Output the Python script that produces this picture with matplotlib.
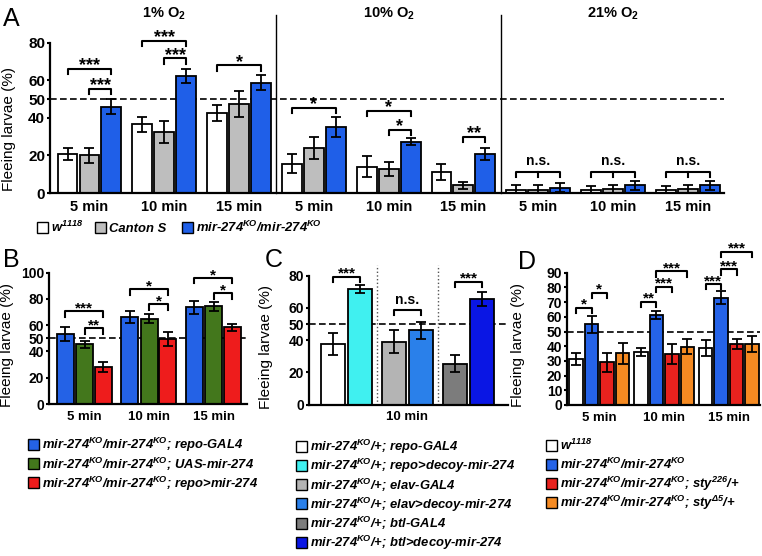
import numpy as np
import matplotlib
matplotlib.use('Agg')
import matplotlib.pyplot as plt
from matplotlib.patches import Rectangle

plt.rcParams['font.family'] = ['Liberation Sans', 'DejaVu Sans']
plt.rcParams['mathtext.fontset'] = 'custom'
plt.rcParams['mathtext.rm'] = 'Liberation Sans:italic:bold'
plt.rcParams['mathtext.it'] = 'Liberation Sans:italic:bold'
plt.rcParams['mathtext.bf'] = 'Liberation Sans:bold'

# ---- panel A: 3 O2 levels x 3 times, 3 genotypes
times = ['5 min', '10 min', '15 min']
o2_levels = ['1% O$_{\\mathbf{2}}$', '10% O$_{\\mathbf{2}}$', '21% O$_{\\mathbf{2}}$']
a_labels = ['w$^{1118}$', 'Canton S', 'mir-274$^{KO}$/mir-274$^{KO}$']
a_colors = ['white', '#bebebe', '#1f5fe8']
a_w1118 = [21, 36.5, 42.5, 15.5, 14, 11.2, 1.8, 1.5, 1.5]
a_w1118_err = [3.2, 4.2, 4.4, 5, 5.5, 4.5, 2.3, 2, 2.3]
a_canton = [20, 32.4, 47.4, 24, 12.8, 4, 1.8, 2, 2]
a_canton_err = [4, 5.7, 6.7, 5.7, 3.6, 2, 2.3, 2.3, 2.3]
a_ko = [46, 62.4, 58.8, 35, 27.4, 21, 2.8, 4.1, 4]
a_ko_err = [4, 3.6, 4, 5.2, 2, 3.2, 2.5, 2.5, 2.5]
# (group, bar i, bar j, height, label)
a_sig = [(0, 0, 2, 66, '***'), (0, 1, 2, 55.6, '***'), (1, 0, 2, 81, '***'),
         (1, 1, 2, 71.6, '***'), (2, 0, 2, 68, '*'), (3, 0, 2, 45.3, '*'),
         (4, 0, 2, 43.8, '*'), (4, 1, 2, 33.7, '*'), (5, 1, 2, 30, '**')]
a_ns = [(6, 11.4), (7, 11.4), (8, 11.4)]

# ---- panel B: rescue in glia
b_labels = ['mir-274$^{KO}$/mir-274$^{KO}$; repo-GAL4',
            'mir-274$^{KO}$/mir-274$^{KO}$; UAS-mir-274',
            'mir-274$^{KO}$/mir-274$^{KO}$; repo>mir-274']
b_colors = ['#2462e6', '#43771c', '#ee1c1c']
b_repo = [53.4, 66.4, 73.5]
b_repo_err = [5.5, 4.6, 5.3]
b_uas = [45.5, 65, 74.3]
b_uas_err = [2.7, 3.4, 3.6]
b_rescue = [28.2, 49.4, 58.5]
b_rescue_err = [3.8, 5.1, 2.8]
b_sig = [(0, 0, 2, 70.5, '***'), (0, 1, 2, 57.8, '**'), (1, 0, 2, 87.5, '*'),
         (1, 1, 2, 76, '*'), (2, 0, 2, 96, '*'), (2, 1, 2, 84.5, '*')]

# ---- panel C: decoy in three tissues, 10 min
c_labels = ['mir-274$^{KO}$/+; repo-GAL4', 'mir-274$^{KO}$/+; repo>decoy-mir-274',
            'mir-274$^{KO}$/+; elav-GAL4', 'mir-274$^{KO}$/+; elav>decoy-mir-274',
            'mir-274$^{KO}$/+; btl-GAL4', 'mir-274$^{KO}$/+; btl>decoy-mir-274']
c_colors = ['white', '#40f0f0', '#b4b4b4', '#2a80ea', '#7c7c7c', '#0a16e4']
c_values = [37.6, 71.7, 39, 46, 25.3, 65.7]
c_err = [6.6, 2.3, 7.2, 5.3, 5.4, 4.3]
c_sig = [(0, 79.4, '***'), (1, 58.7, 'n.s.'), (2, 76.3, '***')]

# ---- panel D: sty heterozygotes
d_labels = ['w$^{1118}$', 'mir-274$^{KO}$/mir-274$^{KO}$',
            'mir-274$^{KO}$/mir-274$^{KO}$; sty$^{226}$/+',
            'mir-274$^{KO}$/mir-274$^{KO}$; sty$^{\u03945}$/+']
d_colors = ['white', '#2563e8', '#e8221e', '#f58a22']
d_w1118 = [31.1, 36.3, 38.6]
d_w1118_err = [4.1, 2.8, 5.3]
d_ko = [54.9, 61.2, 73]
d_ko_err = [5.7, 2.8, 4.3]
d_sty226 = [29, 34.5, 41.7]
d_sty226_err = [6.7, 6.8, 3.4]
d_styd5 = [35.2, 39.7, 41.3]
d_styd5_err = [7.1, 5.1, 5.5]
d_sig = [(0, 0, 1, 66.2, '*'), (0, 1, 2, 76.4, '*'), (1, 0, 1, 70.3, '**'),
         (1, 1, 2, 80.5, '***'), (1, 1, 3, 91, '***'), (2, 0, 1, 82.3, '***'),
         (2, 1, 2, 92.3, '***'), (2, 1, 3, 104.3, '***')]

W, H = 762, 556
fig = plt.figure(figsize=(W / 100, H / 100), dpi=100)


def px_axes(l, t, r, b):
    return fig.add_axes([l / W, 1 - b / H, (r - l) / W, (b - t) / H])


def style(ax, ticks, tsize, ysize=11, ylab_x=-0.05, ylab_y=0.45):
    for s in ['top', 'right']:
        ax.spines[s].set_visible(False)
    for s in ['left', 'bottom']:
        ax.spines[s].set_linewidth(1.6)
    ax.set_yticks(ticks)
    ax.tick_params(axis='y', length=2.5, width=1.5, pad=1, labelsize=tsize)
    ax.tick_params(axis='x', length=0, pad=5, labelsize=tsize - 0.5)
    for lab in ax.get_xticklabels() + ax.get_yticklabels():
        lab.set_fontweight('bold')
    ax.set_ylabel('Fleeing larvae (%)', fontsize=ysize)
    ax.yaxis.set_label_coords(ylab_x, ylab_y)
    ax.axhline(50, color='black', lw=1.2, dashes=(4, 2), zorder=0.5)


def bars(ax, x, vals, errs, color, width):
    ax.bar(x, vals, width, color=color, edgecolor='black', linewidth=1.3)
    ax.errorbar(x, vals, yerr=errs, fmt='none', ecolor='black', elinewidth=1.3,
                capsize=3.6, capthick=1.3)


def bracket(ax, x1, x2, y, label, drop, size=11, mids=()):
    ax.plot([x1, x1, x2, x2], [y - drop, y, y, y - drop], color='black', lw=1.5,
            clip_on=False)
    for xm in mids:
        ax.plot([xm, xm], [y, y - drop], color='black', lw=1.5, clip_on=False)
    xc = (x1 + x2) / 2
    if label == 'n.s.':
        ax.annotate(label, (xc, y), xytext=(0, 2.5), textcoords='offset points',
                    ha='center', va='bottom', fontsize=10, fontweight='bold',
                    annotation_clip=False)
    else:
        ax.annotate(label, (xc, y), xytext=(0, -size * 0.08), textcoords='offset points',
                    ha='center', va='baseline', fontsize=size, fontweight='bold',
                    annotation_clip=False)


def legend_rows(x, rows, labels, colors):
    for y, lab, col in zip(rows, labels, colors):
        fig.patches.append(Rectangle((x / W, 1 - (y + 5.5) / H), 11 / W, 11 / H,
                                     transform=fig.transFigure, facecolor=col,
                                     edgecolor='black', lw=1))
        fig.text((x + 14) / W, 1 - (y + 5) / H, lab, fontsize=9.4, fontweight='bold',
                 fontstyle='italic', va='baseline')


# ================= A
axA = px_axes(50, 42.7, 724, 193)
xa = np.arange(9)
offA = [-0.294, 0, 0.294]
for k, (v, e) in enumerate([(a_w1118, a_w1118_err), (a_canton, a_canton_err), (a_ko, a_ko_err)]):
    bars(axA, xa + offA[k], v, e, a_colors[k], 0.267)
axA.set_xlim(-0.528, 8.483)
axA.set_ylim(0, 80)
axA.set_xticks(xa)
axA.set_xticklabels(times * 3)
style(axA, [0, 20, 40, 50, 60, 80], 11, ylab_x=-0.05, ylab_y=0.426)
for sx in [2.5, 5.5]:
    axA.plot([sx, sx], [0, 94.7], color='black', lw=1, clip_on=False)
for k, lev in enumerate(o2_levels):
    axA.text(3 * k + 1, 1.19, lev, transform=axA.get_xaxis_transform(), ha='center',
             va='center', fontsize=10.5, fontweight='bold')
for g, i, j, y, lab in a_sig:
    bracket(axA, g + offA[i], g + offA[j], y, lab, 2.9, size=13)
for g, y in a_ns:
    bracket(axA, g + offA[0], g + offA[2], y, 'n.s.', 2.7, mids=[g])

# ================= B
axB = px_axes(49, 272.7, 247, 404)
xb = np.arange(3)
offB = [-0.30, 0, 0.29]
for k, (v, e) in enumerate([(b_repo, b_repo_err), (b_uas, b_uas_err), (b_rescue, b_rescue_err)]):
    bars(axB, xb + offB[k], v, e, b_colors[k], 0.263)
axB.set_xlim(-0.556, 2.52)
axB.set_ylim(0, 100)
axB.set_xticks(xb)
axB.set_xticklabels(times)
style(axB, [0, 20, 40, 50, 60, 80, 100], 10, ylab_x=-0.175, ylab_y=0.45)
for g, i, j, y, lab in b_sig:
    bracket(axB, g + offB[i], g + offB[j], y, lab, 4.2)

# ================= C
axC = px_axes(309, 275.7, 508, 404.5)
xc = np.repeat(np.arange(3), 2) + np.tile([-0.22, 0.22], 3)
bars(axC, xc, c_values, c_err, c_colors, 0.39)
axC.set_xlim(-0.615, 2.648)
axC.set_ylim(0, 80)
axC.set_xticks([1])
axC.set_xticklabels(['10 min'])
style(axC, [0, 20, 40, 50, 60, 80], 10, ylab_x=-0.18, ylab_y=0.45)
for sx in [0.5, 1.5]:
    axC.plot([sx, sx], [0, 86.6], color='#555555', lw=1, ls=':', clip_on=False)
for g, y, lab in c_sig:
    bracket(axC, g - 0.22, g + 0.22, y, lab, 3.4)

# ================= D
axD = px_axes(567, 272.7, 760, 405)
xd = np.arange(3)
offD = [-0.36, -0.12, 0.12, 0.36]
for k, (v, e) in enumerate([(d_w1118, d_w1118_err), (d_ko, d_ko_err),
                            (d_sty226, d_sty226_err), (d_styd5, d_styd5_err)]):
    bars(axD, xd + offD[k], v, e, d_colors[k], 0.21)
axD.set_xlim(-0.5, 2.48)
axD.set_ylim(0, 90)
axD.set_xticks(xd)
axD.set_xticklabels(times)
style(axD, np.arange(0, 91, 10), 10, ylab_x=-0.22, ylab_y=0.45)
for g, i, j, y, lab in d_sig:
    bracket(axD, g + offD[i], g + offD[j], y, lab, 3.7)

# ================= panel letters and legends
for lab, x, y in [('A', 3, 7), ('B', 3, 248), ('C', 265, 248), ('D', 518, 250)]:
    fig.text(x / W, 1 - y / H, lab, fontsize=18, va='top')

legend_rows(37, [227], a_labels[:1], a_colors[:1])
legend_rows(95, [227], a_labels[1:2], a_colors[1:2])
legend_rows(182, [227], a_labels[2:], a_colors[2:])
legend_rows(28, [444.3 + 19.3 * i for i in range(3)], b_labels, b_colors)
legend_rows(296, [446 + 19.3 * i for i in range(6)], c_labels, c_colors)
legend_rows(546, [445 + 19 * i for i in range(4)], d_labels, d_colors)

fig.savefig('out.png', dpi=100)
